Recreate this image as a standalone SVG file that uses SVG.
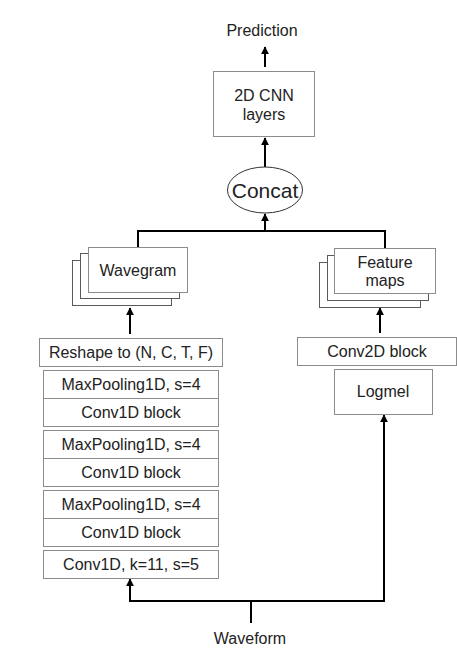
<svg xmlns="http://www.w3.org/2000/svg" width="457" height="659" viewBox="0 0 457 659">
<defs>
<marker id="ah" viewBox="0 0 10 10" refX="9" refY="5" markerWidth="4" markerHeight="4" orient="auto" markerUnits="strokeWidth">
<path d="M0,0 L10,5 L0,10 z" fill="#000"/>
</marker>
<style>
.t{font-family:"Liberation Sans",Arial,sans-serif;font-size:16px;fill:#222;text-anchor:middle}
.b{fill:#fff;stroke:#8c8c8c;stroke-width:1}
.bk{fill:#fff;stroke:#5a5a5a;stroke-width:1}
.c{fill:none;stroke:#000;stroke-width:2}
.a{fill:none;stroke:#000;stroke-width:2;marker-end:url(#ah)}
</style>
</defs>
<rect width="457" height="659" fill="#fff"/>

<g id="connectors">
<line class="a" x1="265" y1="67" x2="265" y2="47"/>
<line class="a" x1="265" y1="167" x2="265" y2="138"/>
<polyline class="c" points="138,247 138,231 385,231 385,248"/>
<line class="a" x1="265" y1="231" x2="265" y2="214"/>
<line class="a" x1="130" y1="334" x2="130" y2="308"/>
<line class="a" x1="380" y1="333" x2="380" y2="308"/>
<polyline class="a" points="251,623 251,601 130,601 130,579"/>
<polyline class="a" points="251,601 384,601 384,415"/>
</g>

<g id="prediction"><text class="t" x="262" y="36">Prediction</text></g>

<g id="cnn2d">
<rect class="b" x="213.5" y="71.5" width="101" height="65"/>
<text class="t" x="264" y="101">2D CNN</text>
<text class="t" x="264" y="120">layers</text>
</g>

<g id="concat">
<ellipse cx="265" cy="190" rx="37.5" ry="23" fill="#fff" stroke="#333" stroke-width="1"/>
<text class="t" x="265" y="197.5" style="font-size:21px">Concat</text>
</g>

<g id="wavegram">
<rect class="bk" x="72.5" y="260.5" width="99" height="45"/>
<rect class="bk" x="80.5" y="253.5" width="99" height="45"/>
<rect class="b" x="88.5" y="247.5" width="99" height="45"/>
<text class="t" x="138" y="276">Wavegram</text>
</g>

<g id="featuremaps">
<rect class="bk" x="319.5" y="262.5" width="101" height="45"/>
<rect class="bk" x="327.5" y="255.5" width="101" height="45"/>
<rect class="b" x="334.5" y="248.5" width="101" height="45"/>
<text class="t" x="385" y="268">Feature</text>
<text class="t" x="385" y="286">maps</text>
</g>

<g id="reshape">
<rect class="b" x="39.5" y="338.5" width="183" height="28"/>
<text class="t" x="131" y="358">Reshape to (N, C, T, F)</text>
</g>

<g id="block1">
<rect class="b" x="43.5" y="370.5" width="175" height="28"/>
<text class="t" x="131" y="390">MaxPooling1D, s=4</text>
<rect class="b" x="43.5" y="398.5" width="175" height="28"/>
<text class="t" x="131" y="418">Conv1D block</text>
</g>

<g id="block2">
<rect class="b" x="43.5" y="430.5" width="175" height="28"/>
<text class="t" x="131" y="450">MaxPooling1D, s=4</text>
<rect class="b" x="43.5" y="458.5" width="175" height="28"/>
<text class="t" x="131" y="478">Conv1D block</text>
</g>

<g id="block3">
<rect class="b" x="43.5" y="490.5" width="175" height="28"/>
<text class="t" x="131" y="510">MaxPooling1D, s=4</text>
<rect class="b" x="43.5" y="518.5" width="175" height="28"/>
<text class="t" x="131" y="538">Conv1D block</text>
</g>

<g id="conv1d">
<rect class="b" x="43.5" y="550.5" width="175" height="28"/>
<text class="t" x="131" y="570">Conv1D, k=11, s=5</text>
</g>

<g id="conv2d">
<rect class="b" x="297.5" y="337.5" width="159" height="28"/>
<text class="t" x="377" y="357">Conv2D block</text>
</g>

<g id="logmel">
<rect class="b" x="334.5" y="369.5" width="98" height="45"/>
<text class="t" x="383" y="397">Logmel</text>
</g>

<g id="waveform"><text class="t" x="250" y="644">Waveform</text></g>
</svg>
